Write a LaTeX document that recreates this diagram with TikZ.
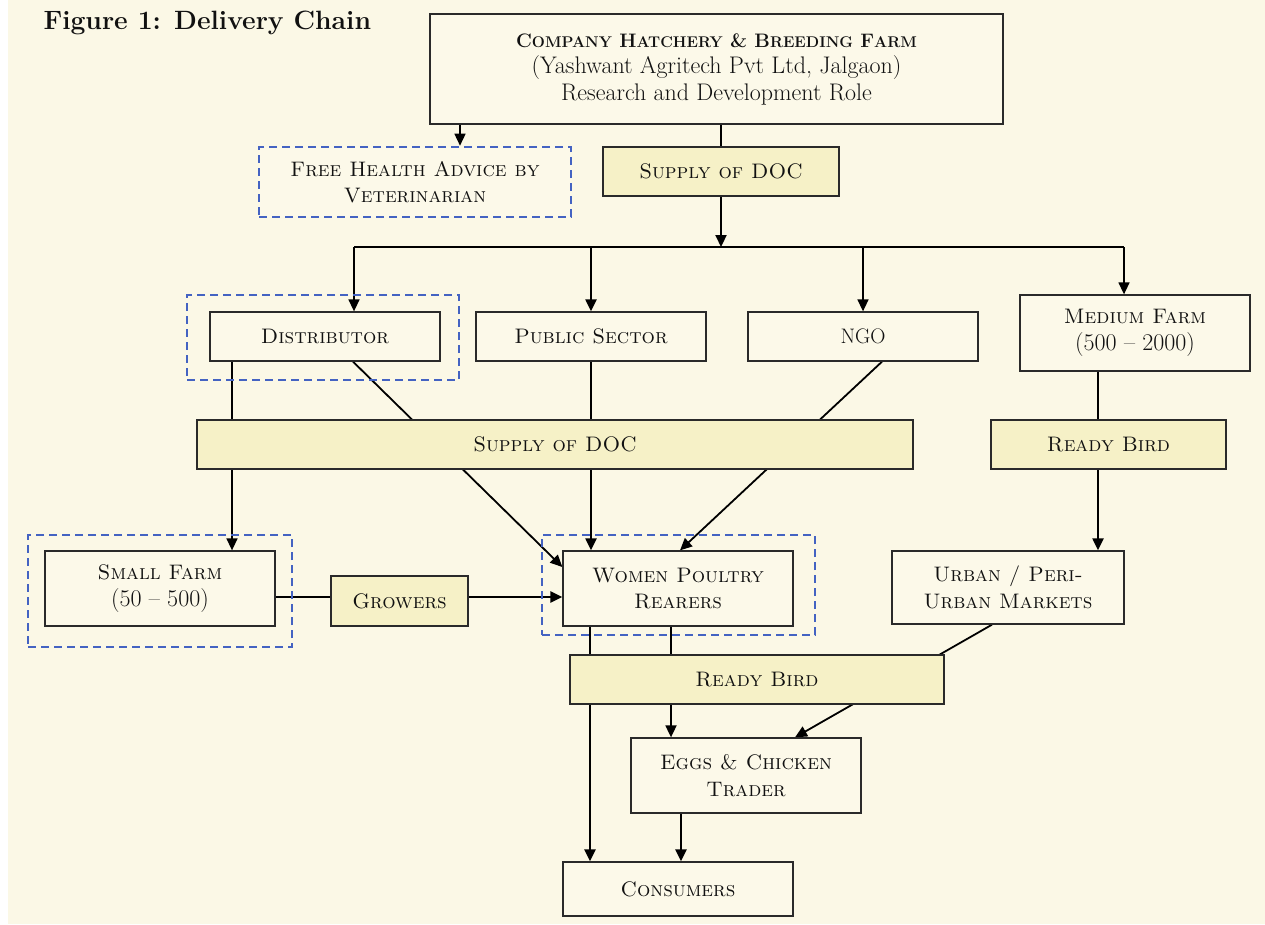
\documentclass[tikz,border=0pt]{standalone}
\usetikzlibrary{arrows.meta}
\definecolor{bgc}{HTML}{FBF8E6}
\definecolor{boxc}{HTML}{FCF9E9}
\definecolor{yel}{HTML}{F6F1C7}
\definecolor{dblue}{HTML}{4463C2}
\definecolor{ink}{HTML}{111111}
\definecolor{edge}{HTML}{2A2A2A}
\pgfdeclarelayer{bg}\pgfdeclarelayer{lines}\pgfsetlayers{bg,lines,main}
\newcommand\fs{\fontsize{21}{26.5}\selectfont}
\newcommand\fr{\fontsize{24}{26.5}\selectfont}
\newcommand\bsc[2]{#1{\fontsize{15.5}{26}\selectfont #2}}
\tikzset{
 box/.style={draw=edge, line width=1.3pt, fill=boxc, inner sep=0pt, align=center, text=ink, font=\fs},
 ybox/.style={box, fill=yel},
 grp/.style={draw=dblue, line width=2.6pt, dash pattern=on 8pt off 5pt, inner sep=0pt},
 conn/.style={draw=black, line width=1.8pt},
 arr/.style={conn, -{Triangle[length=12pt,width=11pt]}},
}
\begin{document}
\begin{tikzpicture}[x=1pt,y=-1pt]
\useasboundingbox (0,0) rectangle (1265,924);
\begin{pgfonlayer}{bg}
\fill[white] (0,0) rectangle (8,924);
\fill[bgc] (8,0) rectangle (1265,924);
\end{pgfonlayer}

\node[anchor=west, text=ink, font=\bfseries\fontsize{26.5}{30}\selectfont] (title) at (40,23) {Figure 1: Delivery Chain};

\node[box, minimum width=573pt, minimum height=110pt] (top) at (716.5,69)
 {{\fontsize{19.5}{26}\selectfont\bfseries\bsc{C}{OMPANY} \bsc{H}{ATCHERY} \& \bsc{B}{REEDING} \bsc{F}{ARM}}\\{\fr(Yashwant Agritech Pvt Ltd, Jalgaon)}\\{\fr Research and Development Role}};
\node[box, draw=none, minimum width=312pt, minimum height=70pt] (vet) at (415,182)
 {\textsc{Free Health Advice by}\\\textsc{Veterinarian}};
\node[grp, minimum width=312pt, minimum height=70pt] (vetgrp) at (415,182) {};
\node[ybox, minimum width=236pt, minimum height=49pt] (sup1) at (721,171.5) {\textsc{Supply of DOC}};

\node[grp, minimum width=272pt, minimum height=85pt] (distgrp) at (323,337.5) {};
\node[box, minimum width=230pt, minimum height=49pt] (dist) at (325,336.5) {\textsc{Distributor}};
\node[box, minimum width=230pt, minimum height=49pt] (pub) at (591,336.5) {\textsc{Public Sector}};
\node[box, minimum width=230pt, minimum height=49pt] (ngo) at (863,336.5) {NGO};
\node[box, minimum width=230pt, minimum height=76pt] (med) at (1135,333) {\textsc{Medium Farm}\\{\fr(500 -- 2000)}};

\node[ybox, minimum width=716pt, minimum height=49pt] (sup2) at (555,444.5) {\textsc{Supply of DOC}};
\node[ybox, minimum width=235pt, minimum height=49pt] (rb1) at (1108.5,444.5) {\textsc{Ready Bird}};

\node[grp, minimum width=264pt, minimum height=112pt] (sfgrp) at (160,591) {};
\node[box, minimum width=230pt, minimum height=75pt] (sfarm) at (160,588.5) {\textsc{Small Farm}\\{\fr(50 -- 500)}};
\node[ybox, minimum width=137pt, minimum height=50pt] (grow) at (399.5,601) {\textsc{Growers}};
\node[grp, minimum width=273pt, minimum height=100pt] (wprgrp) at (678.5,585) {};
\node[box, minimum width=230pt, minimum height=75pt] (wpr) at (678,588.5) {\textsc{Women Poultry}\\\textsc{Rearers}};
\node[box, minimum width=232pt, minimum height=73pt] (urban) at (1008,587.5) {\textsc{Urban / Peri-}\\\textsc{Urban Markets}};

\node[ybox, minimum width=374pt, minimum height=49pt] (rb2) at (757,679.5) {\textsc{Ready Bird}};
\node[box, minimum width=230pt, minimum height=75pt] (eggs) at (746,775.5) {\textsc{Eggs \& Chicken}\\\textsc{Trader}};
\node[box, minimum width=230pt, minimum height=54pt] (cons) at (678,889) {\textsc{Consumers}};

\coordinate (busL) at (354,247);
\coordinate (busR) at (1124,247);
\coordinate (gy) at (0,597);

\begin{pgfonlayer}{lines}
\draw[arr, line width=1.5pt] ([xshift=-256.5pt]top.south) -- ([xshift=45pt]vetgrp.north);
\draw[conn, line width=2.2pt] (sup1.north |- top.south) -- (sup1.north);
\draw[arr, line width=2.2pt] (sup1.south) -- (sup1.south |- busL);
\draw[conn, line width=1.5pt] (busL) -- (busR);
\draw[arr, line width=1.5pt] (busL) -- (dist.north -| busL);
\draw[arr, line width=2.2pt] (pub.north |- busL) -- (pub.north);
\draw[arr, line width=1.5pt] (ngo.north |- busL) -- (ngo.north);
\draw[arr, line width=1.5pt] (busR) -- (med.north -| busR);

\coordinate (d1) at ([xshift=-93pt]dist.south);
\draw[arr, line width=1.5pt] (d1) -- (d1 |- sfarm.north);
\draw[arr] ([xshift=28pt]dist.south) -- ([yshift=21.5pt]wpr.west);
\draw[arr, line width=2.2pt] (pub.south) -- (pub.south |- wpr.north);
\draw[arr] ([xshift=19pt]ngo.south) -- ([xshift=2pt]wpr.north);
\coordinate (m1) at ([xshift=-37pt]med.south);
\draw[arr, line width=2.2pt] (m1) -- (m1 |- urban.north);

\draw[conn] (sfarm.east |- gy) -- (grow.west |- gy);
\draw[arr, line width=2.4pt] (grow.east |- gy) -- (wpr.west |- gy);

\draw[arr, line width=2.4pt] ([xshift=-88pt]wpr.south) -- ([xshift=-88pt]cons.north);
\coordinate (w2) at ([xshift=-7pt]wpr.south);
\draw[arr] (w2) -- (w2 |- eggs.north);
\draw[arr] ([xshift=-16pt]urban.south) -- ([xshift=49pt]eggs.north);
\coordinate (e1) at ([xshift=-65pt]eggs.south);
\draw[arr, line width=2.4pt] (e1) -- (e1 |- cons.north);
\end{pgfonlayer}
\end{tikzpicture}
\end{document}
